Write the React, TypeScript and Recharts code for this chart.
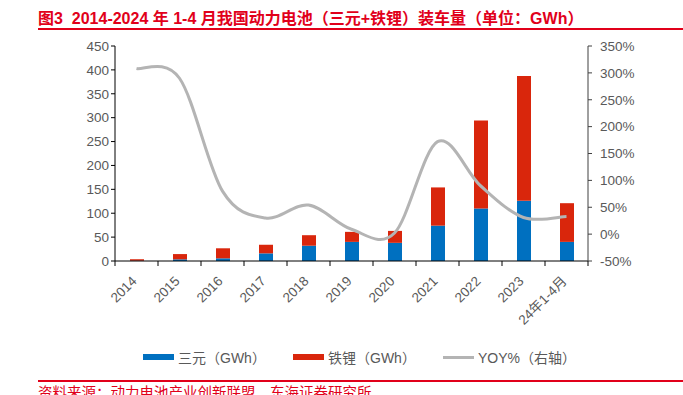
import { ComposedChart, Bar, Line, XAxis, YAxis } from 'recharts';

const years = ['2014', '2015', '2016', '2017', '2018', '2019', '2020', '2021', '2022', '2023', '24年1-4月'];
const sanyuan = [0.5, 3.5, 5.6, 16, 32, 40, 38, 74, 110, 126, 40];
const tieli = [3.2, 11, 21, 18, 22, 21, 25, 80, 184, 261, 81];
const yoy = [308, 290, 80, 30, 54, 9, 2, 172, 90, 31, 33];
const leftTicks = [0, 50, 100, 150, 200, 250, 300, 350, 400, 450];
const rightTicks = [-50, 0, 50, 100, 150, 200, 250, 300, 350];

const data = years.map((year, i) => ({ year, sanyuan: sanyuan[i], tieli: tieli[i], yoy: yoy[i] }));

const RED = '#E1001A';
const BLUE = '#0070C0';
const LFP = '#D9260C';
const GREY = '#B4B4B4';
const TEXT = '#595959';
const FONT = '"Liberation Sans", Arial, "Noto Sans CJK SC", sans-serif';

const WIDTH = 683;
const LEFT_W = 115;
const RIGHT_W = 95;
const BAND = (WIDTH - LEFT_W - RIGHT_W) / years.length;

// Excel-like smoothed line (Catmull-Rom through every point)
function excelCurve(context: any) {
  let pts: [number, number][] = [];
  return {
    areaStart() {},
    areaEnd() {},
    lineStart() {
      pts = [];
    },
    lineEnd() {
      if (!pts.length) return;
      context.moveTo(pts[0][0], pts[0][1]);
      for (let i = 0; i < pts.length - 1; i++) {
        const p0 = pts[i - 1] || pts[i];
        const p1 = pts[i];
        const p2 = pts[i + 1];
        const p3 = pts[i + 2] || p2;
        context.bezierCurveTo(
          p1[0] + (p2[0] - p0[0]) / 6,
          p1[1] + (p2[1] - p0[1]) / 6,
          p2[0] - (p3[0] - p1[0]) / 6,
          p2[1] - (p3[1] - p1[1]) / 6,
          p2[0],
          p2[1]
        );
      }
    },
    point(x: number, y: number) {
      pts.push([+x, +y]);
    },
  };
}

function YearTick({ x, y, payload, index }: any) {
  const tx = x + 1;
  const ty = y + 21;
  return (
    <g>
      <line x1={x - BAND / 2} y1={y} x2={x - BAND / 2} y2={y + 5} stroke="#000" />
      {index === years.length - 1 && <line x1={x + BAND / 2} y1={y} x2={x + BAND / 2} y2={y + 5} stroke="#000" />}
      <text x={tx} y={ty} textAnchor="end" fill={TEXT} fontSize={13.5} transform={`rotate(-45, ${tx}, ${ty})`}>
        {payload.value}
      </text>
    </g>
  );
}

function LegendItem({ left, color, line, label }: { left: number; color: string; line?: boolean; label: string }) {
  return (
    <div style={{ position: 'absolute', left, top: 347, display: 'flex', alignItems: 'center', fontSize: 14, color: TEXT, whiteSpace: 'nowrap' }}>
      <span style={{ display: 'inline-block', width: 31, height: line ? 3 : 6, background: color, marginRight: 4 }} />
      <span>{label}</span>
    </div>
  );
}

export default function App() {
  return (
    <div style={{ position: 'absolute', left: 0, top: 0, width: WIDTH, height: 395, background: '#fff', fontFamily: FONT, overflow: 'hidden' }}>
      <div style={{ position: 'absolute', left: 38, top: 5, fontSize: 16, fontWeight: 'bold', color: RED, whiteSpace: 'nowrap' }}>
        图3&nbsp;&nbsp;2014-2024 年 1-4 月我国动力电池（三元+铁锂）装车量（单位：GWh）
      </div>
      <div style={{ position: 'absolute', left: 38, right: 0, top: 28, height: 1.5, background: RED }} />

      <div style={{ position: 'absolute', left: 0, top: 0 }}>
        <ComposedChart width={WIDTH} height={395} data={data} margin={{ top: 46, right: 0, left: 0, bottom: 74 }} style={{ fontFamily: FONT }}>
          <XAxis dataKey="year" height={60} interval={0} tickSize={0} tickMargin={0} tickLine={false} axisLine={{ stroke: '#000' }} tick={<YearTick />} />
          <YAxis
            yAxisId="left"
            domain={[0, 450]}
            ticks={leftTicks}
            width={LEFT_W}
            tickSize={4}
            tickMargin={2}
            axisLine={{ stroke: '#000' }}
            tickLine={{ stroke: '#000' }}
            tick={{ fill: TEXT, fontSize: 13.5 }}
          />
          <YAxis
            yAxisId="right"
            orientation="right"
            domain={[-50, 350]}
            ticks={rightTicks}
            width={RIGHT_W}
            tickSize={4}
            tickMargin={8}
            tickFormatter={(v: number) => `${v}%`}
            axisLine={{ stroke: '#404040' }}
            tickLine={{ stroke: '#404040' }}
            tick={{ fill: TEXT, fontSize: 13.5, textAnchor: 'start' }}
          />
          <Bar yAxisId="left" dataKey="sanyuan" stackId="a" fill={BLUE} barSize={14} isAnimationActive={false} />
          <Bar yAxisId="left" dataKey="tieli" stackId="a" fill={LFP} barSize={14} isAnimationActive={false} />
          <Line yAxisId="right" dataKey="yoy" type={excelCurve as any} stroke={GREY} strokeWidth={3} dot={false} activeDot={false} isAnimationActive={false} />
        </ComposedChart>
      </div>

      <LegendItem left={143} color={BLUE} label="三元（GWh）" />
      <LegendItem left={293} color={LFP} label="铁锂（GWh）" />
      <LegendItem left={443} color={GREY} line label="YOY%（右轴）" />

      <div style={{ position: 'absolute', left: 38, right: 0, top: 380, height: 1.5, background: RED }} />
      <div style={{ position: 'absolute', left: 38, top: 381, fontSize: 14.5, color: RED, whiteSpace: 'nowrap' }}>
        资料来源：动力电池产业创新联盟，东海证券研究所
      </div>
    </div>
  );
}
